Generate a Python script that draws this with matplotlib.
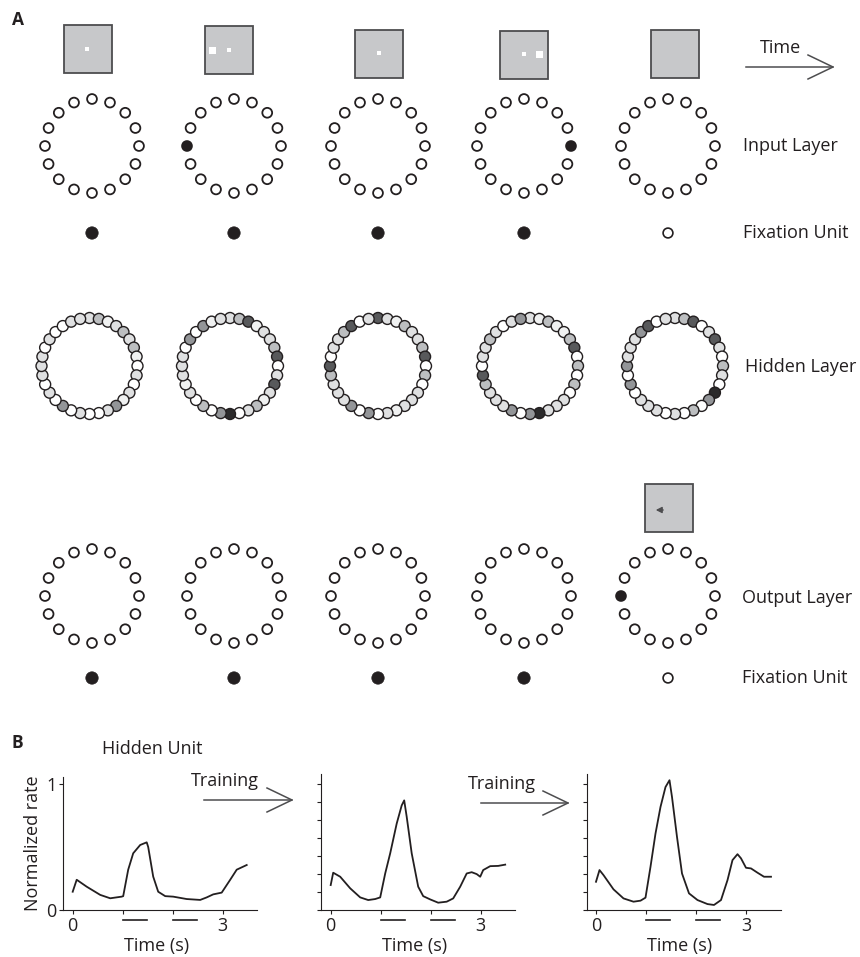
import numpy as np
import matplotlib
matplotlib.use("Agg")
import matplotlib.pyplot as plt
from matplotlib.patches import Circle, Rectangle

plt.rcParams['font.family'] = ['Open Sans', 'DejaVu Sans']

ink = '#231f20'
shades = ['#ffffff', '#f0f1f1', '#dfe0e1', '#bcbec0', '#939598', '#58595b', '#2b2a2b']
fs = 13

# ---- panel A : network state over time ----
col_x = [92, 234, 378, 524, 668]          # ring columns
hidden_x = [89.5, 230, 378, 530, 675]     # hidden ring columns
input_active = [None, 8, None, 0, None]   # ring index of lit input unit (0 = right, ccw)
output_active = [None, None, None, None, 8]
fix_in = [1, 1, 1, 1, 0]
fix_out = [1, 1, 1, 1, 0]

# screen shown above each input ring: centre of the grey square and the white stimuli
screen_xy = [(87.5, 49), (228.5, 49.5), (378.5, 53.5), (523.5, 55), (675, 53.5)]
stim = [
    [(87, 49, 4)],
    [(212, 50, 7), (229, 50, 4)],
    [(379, 53, 4)],
    [(524, 54, 4), (539, 54, 7)],
    [],
]

# hidden unit activity levels, 32 units, index 0 at top, clockwise
hidden = [
    [2, 3, 1, 2, 3, 2, 3, 1, 0, 2, 0, 2, 1, 4, 2, 0, 0, 2, 0, 4, 0, 2, 0, 2, 2, 2, 0, 2, 0, 0, 2, 2],
    [2, 3, 5, 1, 2, 2, 3, 5, 0, 2, 5, 2, 1, 3, 2, 0, 6, 4, 0, 3, 0, 2, 1, 2, 2, 2, 0, 4, 0, 4, 1, 2],
    [5, 2, 1, 3, 2, 2, 3, 5, 0, 3, 0, 2, 2, 2, 1, 2, 0, 4, 0, 4, 2, 2, 2, 3, 5, 0, 2, 2, 3, 5, 0, 2],
    [2, 1, 3, 1, 1, 3, 5, 0, 3, 0, 3, 0, 2, 2, 2, 6, 4, 0, 4, 2, 2, 2, 3, 5, 0, 2, 2, 3, 2, 0, 2, 4],
    [2, 3, 5, 0, 2, 5, 2, 0, 3, 2, 0, 6, 4, 0, 3, 0, 2, 0, 2, 2, 2, 0, 4, 0, 4, 2, 2, 2, 4, 5, 0, 2],
]

# ---- panel B : hidden unit rate across training ----
t_stage1 = [0, 0.08, 0.28, 0.55, 0.75, 0.98, 1.01, 1.11, 1.21, 1.35, 1.48, 1.51, 1.61, 1.71,
            1.85, 2.01, 2.28, 2.55, 2.68, 2.81, 2.98, 3.15, 3.28, 3.48]
r_stage1 = [0.145, 0.24, 0.185, 0.12, 0.093, 0.106, 0.11, 0.32, 0.45, 0.516, 0.537, 0.5, 0.265, 0.145,
            0.11, 0.106, 0.087, 0.08, 0.1, 0.124, 0.138, 0.24, 0.32, 0.357]
t_stage2 = [0, 0.05, 0.19, 0.39, 0.59, 0.75, 0.89, 0.99, 1.09, 1.19, 1.32, 1.42, 1.47, 1.52,
            1.62, 1.75, 1.85, 1.99, 2.15, 2.32, 2.45, 2.59, 2.72, 2.82, 2.92, 2.99, 3.05, 3.19, 3.35, 3.49]
r_stage2 = [0.198, 0.296, 0.264, 0.172, 0.1, 0.079, 0.087, 0.1, 0.29, 0.45, 0.686, 0.83, 0.87, 0.74,
            0.45, 0.185, 0.11, 0.084, 0.058, 0.066, 0.092, 0.185, 0.29, 0.30, 0.285, 0.264, 0.317, 0.348, 0.35, 0.36]
t_stage3 = [0, 0.07, 0.15, 0.35, 0.55, 0.75, 0.89, 0.99, 1.09, 1.19, 1.29, 1.39, 1.47, 1.52,
            1.62, 1.72, 1.86, 2.03, 2.23, 2.36, 2.5, 2.63, 2.73, 2.83, 2.9, 3.0, 3.1, 3.23, 3.36, 3.5]
r_stage3 = [0.224, 0.317, 0.277, 0.164, 0.092, 0.066, 0.074, 0.098, 0.343, 0.607, 0.818, 0.976, 1.03, 0.897,
            0.58, 0.29, 0.132, 0.079, 0.047, 0.04, 0.079, 0.237, 0.396, 0.443, 0.41, 0.335, 0.33, 0.296, 0.264, 0.264]
stim_periods = [(1.0, 1.48), (2.0, 2.48)]
rate_ticks = np.arange(8) / 7

fig = plt.figure(figsize=(8.6, 9.57), dpi=100)
ax = fig.add_axes([0, 0, 1, 1])
ax.set_xlim(0, 860)
ax.set_ylim(957, 0)
ax.axis('off')


def unit_ring(cx, cy, active, n=16, R=47, r=4.9):
    ang = np.arange(n) * 2 * np.pi / n
    for k, a in enumerate(ang):
        fc = ink if k == active else 'white'
        ax.add_patch(Circle((cx + R * np.cos(a), cy - R * np.sin(a)), r,
                            fc=fc, ec=ink, lw=1.3))


def fixation(cx, cy, on):
    if on:
        ax.add_patch(Circle((cx, cy), 6.2, fc=ink, ec=ink, lw=0.5))
    else:
        ax.add_patch(Circle((cx, cy), 4.9, fc='white', ec=ink, lw=1.2))


def screen(cx, cy, size=48):
    ax.add_patch(Rectangle((cx - size / 2, cy - size / 2), size, size,
                           fc='#c7c8ca', ec='#4d4d4f', lw=1.3))


for i in range(5):
    # screens and stimuli
    screen(*screen_xy[i])
    for sx, sy, s in stim[i]:
        ax.add_patch(Rectangle((sx - s / 2, sy - s / 2), s, s, fc='white', ec='none'))
    unit_ring(col_x[i], 146, input_active[i])
    fixation(col_x[i], 233, fix_in[i])

    # hidden ring
    ang = np.deg2rad(90 - np.arange(32) * 11.25)
    for k, a in enumerate(ang):
        ax.add_patch(Circle((hidden_x[i] + 48 * np.cos(a), 366 - 48 * np.sin(a)), 5.5,
                            fc=shades[hidden[i][k]], ec=ink, lw=1.0))

    unit_ring(col_x[i], 596, output_active[i])
    fixation(col_x[i], 678, fix_out[i])

# response screen with leftward saccade
screen(668.5, 507.5)
ax.annotate('', xy=(653, 510), xytext=(666, 510),
            arrowprops=dict(arrowstyle='-|>,head_length=0.35,head_width=0.18', color='#4d4d4f', lw=1.0))


def open_arrow(x0, x1, y):
    ax.plot([x0, x1], [y, y], color='#4d4d4f', lw=1.1)
    ax.plot([x1 - 25, x1, x1 - 25], [y - 12, y, y + 12], color='#4d4d4f', lw=1.1)


open_arrow(746, 833, 67)
ax.text(780, 48, 'Time', ha='center', va='center', fontsize=fs, color=ink)

lab_kw = dict(ha='left', va='center', fontsize=fs, color=ink)
ax.text(743, 146, 'Input Layer', **lab_kw)
ax.text(743, 233, 'Fixation Unit', **lab_kw)
ax.text(745, 367, 'Hidden Layer', **lab_kw)
ax.text(742, 598, 'Output Layer', **lab_kw)
ax.text(742, 678, 'Fixation Unit', **lab_kw)

ax.text(18, 20, 'A', ha='center', va='center', fontsize=12.5, fontweight='bold', color=ink)
ax.text(17, 743, 'B', ha='center', va='center', fontsize=12.5, fontweight='bold', color=ink)
ax.text(102, 749, 'Hidden Unit', ha='left', va='center', fontsize=fs, color=ink)

# training arrows between the panels
open_arrow(204, 292, 800)
ax.text(225, 781, 'Training', ha='center', va='center', fontsize=fs, color=ink)
open_arrow(481, 568, 803)
ax.text(502, 784, 'Training', ha='center', va='center', fontsize=fs, color=ink)
ax.text(33, 843, 'Normalized rate', rotation=90, ha='center', va='center', fontsize=fs, color=ink)

# ---- rate traces ----
stages = [(t_stage1, r_stage1), (t_stage2, r_stage2), (t_stage3, r_stage3)]
t0_px = [72.7, 330.7, 596]
ytop = [1.055, 1.08, 1.08]
px_per_s = 50
px_per_unit = 126
for j, (t, r) in enumerate(stages):
    left = t0_px[j] - 0.19 * px_per_s
    w = 3.88 * px_per_s
    h = ytop[j] * px_per_unit
    bx = fig.add_axes([left / 860, (957 - 910) / 957, w / 860, h / 957])
    bx.patch.set_visible(False)
    bx.plot(t, r, color=ink, lw=1.3)
    bx.set_xlim(-0.19, 3.69)
    bx.set_ylim(0, ytop[j])
    for s in ['top', 'right']:
        bx.spines[s].set_visible(False)
    for s in ['left', 'bottom']:
        bx.spines[s].set_color(ink)
        bx.spines[s].set_linewidth(0.8)
    bx.set_xticks([0, 1, 2, 3])
    bx.set_xticklabels(['0', '', '', '3'])
    if j == 0:
        bx.set_yticks([0, 1])
        bx.set_yticklabels(['0', '1'])
    else:
        bx.set_yticks(rate_ticks)
        bx.set_yticklabels([])
    bx.tick_params(direction='out', length=3, width=0.8, color=ink, labelcolor=ink,
                   labelsize=fs, pad=2)
    for a, b in stim_periods:
        bx.plot([a, b], [-0.08, -0.08], color=ink, lw=1.2, clip_on=False)
    ax.text(t0_px[j] + 1.68 * px_per_s, 946, 'Time (s)', ha='center', va='center',
            fontsize=fs, color=ink)

fig.savefig('out.png', dpi=100)
